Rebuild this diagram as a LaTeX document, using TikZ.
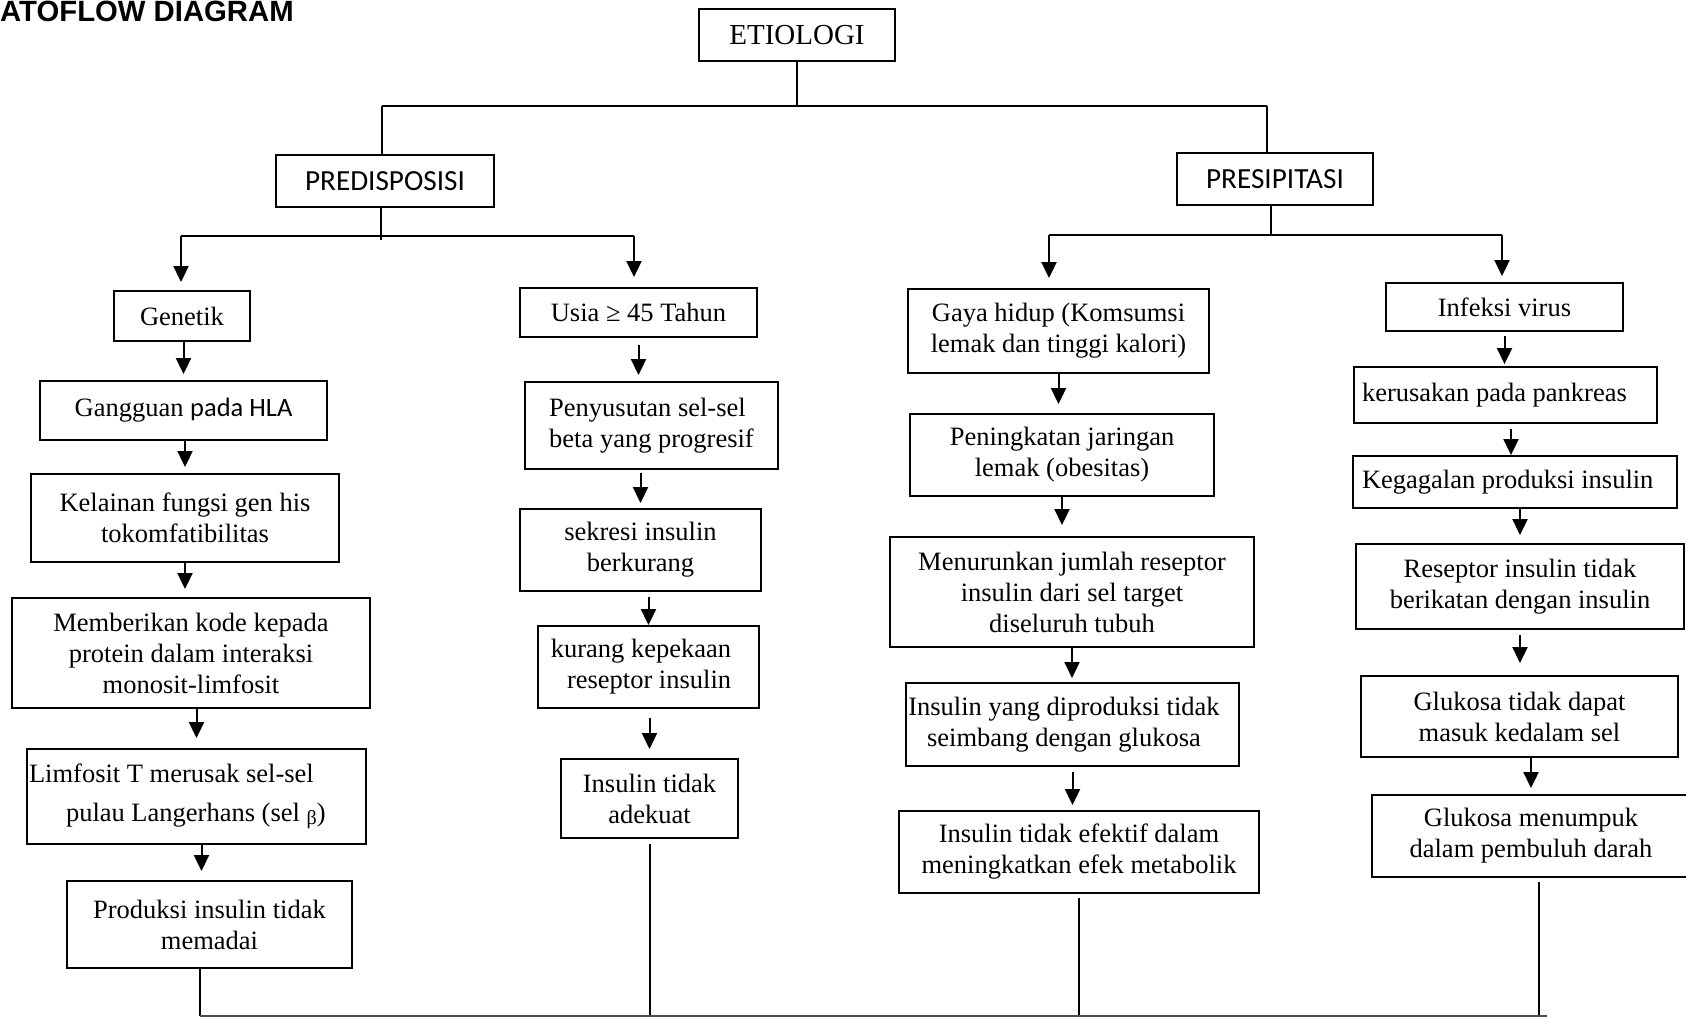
\documentclass[tikz,border=0pt]{standalone}
\usepackage{fontspec}
\setmainfont{Liberation Serif}
\newfontfamily\calibri{Carlito}
\newfontfamily\arialfont{Liberation Sans}
\usetikzlibrary{arrows.meta}

\begin{document}
\begin{tikzpicture}[x=1pt,y=-1pt,
  box/.style={draw, line width=1.9pt, inner sep=0pt, align=center,
    font=\fontsize{26.5}{31}\selectfont},
  lbox/.style={box, align=flush left, execute at begin node={\spaceskip=0pt\xspaceskip=0pt\relax}},
  arr/.style={line width=2pt, -{Triangle[length=16pt,width=15pt]}, shorten >=6pt},
  link/.style={line width=2pt}]

\clip (0,0) rectangle (1686,1018);
\fill[white] (0,0) rectangle (1686,1018);

\node[anchor=base west, inner sep=0pt, font=\arialfont\bfseries\fontsize{29.3}{30}\selectfont] (title) at (0,21) {ATOFLOW DIAGRAM};

\node[box, minimum width=196, minimum height=52, font=\fontsize{29}{31}\selectfont] (etio) at (797,35) {ETIOLOGI};
\node[box, minimum width=218, minimum height=52, font=\calibri\fontsize{29.2}{31}\selectfont] (predis) at (385,181) {PREDISPOSISI};
\node[box, minimum width=196, minimum height=52, font=\calibri\fontsize{29.2}{31}\selectfont] (presip) at (1275,179) {PRESIPITASI};

% genetik
\node[box, minimum width=136, minimum height=50] (genetik) at (182,316) {Genetik};
\node[box, minimum width=287, minimum height=59] (hla) at (183.5,410.5) {Gangguan {\calibri pada HLA}};
\node[box, minimum width=308, minimum height=88] (kelainan) at (185,518) {Kelainan fungsi gen his\\tokomfatibilitas};
\node[box, minimum width=358, minimum height=110] (kode) at (191,653) {Memberikan kode kepada\\protein dalam interaksi\\monosit-limfosit};
\node[lbox, minimum width=339, minimum height=95, text width=335, inner xsep=2pt] (limfosit) at (196.5,796.5) {Limfosit T merusak sel-sel\\[8pt]\hspace*{37pt}pulau Langerhans (sel \raisebox{-3pt}{\fontsize{20}{20}\selectfont β})};
\node[box, minimum width=285, minimum height=87] (produksi) at (209.5,924.5) {Produksi insulin tidak\\memadai};

% usia
\node[box, minimum width=237, minimum height=49] (usia) at (638.5,312.5) {Usia ≥ 45 Tahun};
\node[box, align=left, minimum width=253, minimum height=87] (susut) at (651.5,425.5) {Penyusutan sel-sel\\beta yang progresif};
\node[box, align=right, minimum width=221, minimum height=82] (kurang) at (648.5,667) {kurang kepekaan\hspace*{15pt}\\reseptor insulin\hspace*{15pt}};
\node[box, minimum width=241, minimum height=82] (sekresi) at (640.5,550) {sekresi insulin\\berkurang};
\node[box, minimum width=177, minimum height=79] (adekuat) at (649.5,798.5) {Insulin tidak\\adekuat};

% gaya hidup
\node[box, minimum width=301, minimum height=84] (gaya) at (1058.5,331) {Gaya hidup (Komsumsi\\lemak dan tinggi kalori)};
\node[box, minimum width=304, minimum height=82] (lemak) at (1062,455) {Peningkatan jaringan\\lemak (obesitas)};
\node[box, minimum width=364, minimum height=110] (reseptor) at (1072,592) {Menurunkan jumlah reseptor\\insulin dari sel target\\diseluruh tubuh};
\node[box, minimum width=333, minimum height=83] (seimbang) at (1072.5,724.5) {Insulin yang diproduksi tidak\hspace*{17pt}\\seimbang dengan glukosa\hspace*{17pt}};
\node[box, minimum width=360, minimum height=82] (efektif) at (1079,852) {Insulin tidak efektif dalam\\meningkatkan efek metabolik};

% infeksi virus
\node[box, minimum width=237, minimum height=48] (virus) at (1504.5,307) {Infeksi virus};
\node[lbox, minimum width=303, minimum height=56, text width=287, inner xsep=8pt] (pankreas) at (1505.5,395) {kerusakan pada pankreas};
\node[lbox, minimum width=324, minimum height=52, text width=306, inner xsep=9pt] (gagal) at (1515,482) {Kegagalan produksi insulin};
\node[box, minimum width=328, minimum height=85] (ikat) at (1520,586.5) {Reseptor insulin tidak\\berikatan dengan insulin};
\node[box, minimum width=317, minimum height=81] (masuk) at (1519.5,716.5) {Glukosa tidak dapat\\masuk kedalam sel};
\node[box, minimum width=318, minimum height=82] (numpuk) at (1531,836) {Glukosa menumpuk\\dalam pembuluh darah};

% cabang etiologi
\coordinate (tl) at (382,106);
\coordinate (tr) at (1267,106);
\draw[link] (etio.south) -- (etio.south |- tl);
\draw[line width=2.8pt] (tl) -- (tr);
\draw[link] (tl) -- (tl |- predis.north);
\draw[link] (tr) -- (tr |- presip.north);

% cabang predisposisi
\coordinate (pm) at (381,240);
\coordinate (pl) at (181,236);
\coordinate (pr) at (634,236);
\draw[link] (pm |- predis.south) -- (pm);
\draw[link] (pl) -- (pr);
\draw[arr, shorten >=8pt] (pl) -- (pl |- genetik.north);
\draw[arr, shorten >=10pt] (pr) -- (pr |- usia.north);

% cabang presipitasi
\coordinate (qm) at (1271,235);
\coordinate (ql) at (1049,235);
\coordinate (qr) at (1502,235);
\draw[link] (qm |- presip.south) -- (qm);
\draw[link] (ql) -- (qr);
\draw[arr, shorten >=10pt] (ql) -- (ql |- gaya.north);
\draw[arr] (qr) -- (qr |- virus.north);

% kolom genetik
\draw[arr] (genetik.south -| hla.north) -- (hla.north);
\draw[arr] (hla.south -| kelainan.north) -- (kelainan.north);
\draw[arr, shorten >=8pt] (kelainan.south) -- (kelainan.south |- kode.north);
\draw[arr, shorten >=10pt] (kode.south -| limfosit.north) -- (limfosit.north);
\draw[arr, shorten >=9pt] ([xshift=5pt]limfosit.south) -- ([xshift=5pt]limfosit.south |- produksi.north);

% kolom usia
\draw[arr, shorten <=7pt] (usia.south) -- (usia.south |- susut.north);
\draw[arr, shorten <=3pt, shorten >=5pt] (susut.south -| sekresi.north) -- (sekresi.north);
\draw[arr, shorten <=5pt, shorten >=0pt] (sekresi.south -| kurang.north) -- (kurang.north);
\draw[arr, shorten <=9pt, shorten >=9pt] (kurang.south -| adekuat.north) -- (adekuat.north);

% kolom gaya hidup
\draw[arr, shorten >=9pt] (gaya.south) -- (gaya.south |- lemak.north);
\draw[arr, shorten >=11pt] (lemak.south) -- (lemak.south |- reseptor.north);
\draw[arr, shorten >=4pt] (reseptor.south) -- (reseptor.south |- seimbang.north);
\draw[arr, shorten <=5pt, shorten >=5pt] (seimbang.south) -- (seimbang.south |- efektif.north);

% kolom infeksi
\draw[arr, shorten <=4pt, shorten >=2pt] (virus.south) -- (virus.south |- pankreas.north);
\draw[arr, shorten <=5pt, shorten >=0pt] ([xshift=5.5pt]pankreas.south) -- ([xshift=5.5pt]pankreas.south |- gagal.north);
\draw[arr, shorten >=8pt] (gagal.south -| ikat.north) -- (ikat.north);
\draw[arr, shorten <=5pt, shorten >=12pt] (ikat.south) -- (ikat.south |- masuk.north);
\draw[arr] (masuk.south -| numpuk.north) -- (numpuk.north);

% garis bawah
\coordinate (bl) at (200,1016);
\coordinate (br) at (1547,1016);
\coordinate (bn) at (1539,1016);
\draw[link] (bl |- produksi.south) -- (bl);
\draw[link, shorten <=5pt] (adekuat.south) -- (adekuat.south |- bl);
\draw[link, shorten <=4pt] (efektif.south) -- (efektif.south |- bl);
\draw[link, shorten <=4pt] (bn |- numpuk.south) -- (bn);
\draw[line width=1.4pt, black!70] (bl) -- (br);

\end{tikzpicture}
\end{document}
